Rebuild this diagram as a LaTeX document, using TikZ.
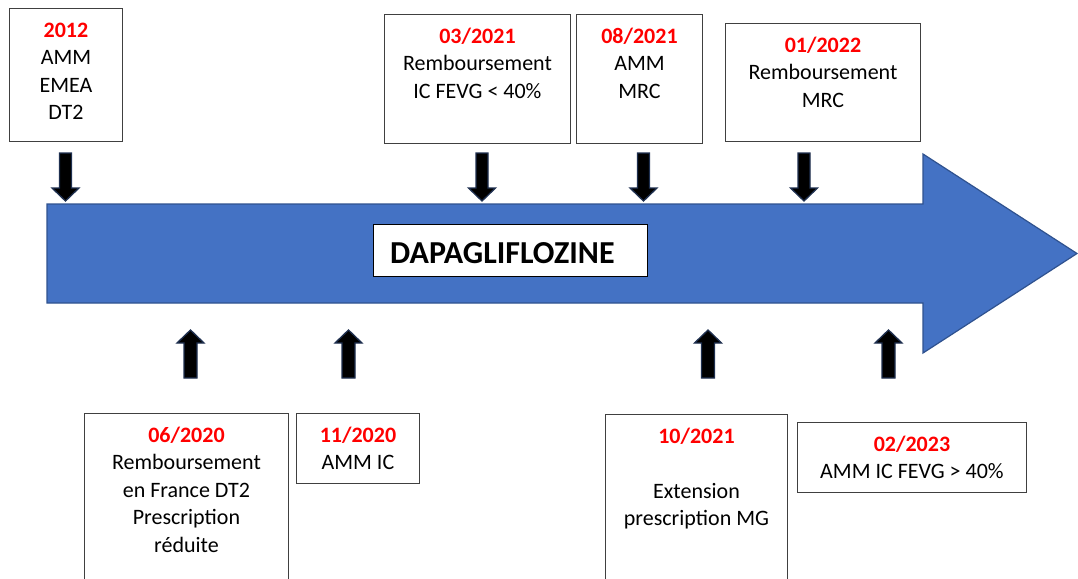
\documentclass[tikz,border=0pt]{standalone}
\usepackage{fontspec}
\setmainfont{Carlito}
\definecolor{bigblue}{HTML}{4472C4}
\definecolor{bigedge}{HTML}{2F528F}
\definecolor{arredge}{HTML}{1F3050}
\definecolor{datered}{HTML}{FF0000}
\definecolor{boxedge}{HTML}{404040}
\tikzset{
  evbox/.style={draw=boxedge, line width=0.9pt, fill=white, inner sep=0pt},
  evtext/.style={anchor=north, inner sep=0pt, align=center, text=black,
    font=\fontsize{22}{27.5}\selectfont},
  blockarr/.style={fill=black, draw=arredge, line width=1.3pt, line join=miter},
  bigarrow/.style={fill=bigblue, draw=bigedge, line width=1.2pt, line join=miter},
  titlebox/.style={draw=black, line width=0.9pt, fill=white},
}
\newcommand{\dte}[1]{\rule{0pt}{16pt}\textcolor{datered}{\textbf{#1}}}
\newcommand{\DownArr}[1]{\draw[blockarr] (#1-6,153) -- (#1+6,153) -- (#1+6,188) -- (#1+13.5,188) -- (#1,201) -- (#1-13.5,188) -- (#1-6,188) -- cycle;}
\newcommand{\UpArr}[1]{\draw[blockarr] (#1-6.5,378) -- (#1+6.5,378) -- (#1+6.5,343) -- (#1+13.5,343) -- (#1,330) -- (#1-13.5,343) -- (#1-6.5,343) -- cycle;}
\begin{document}
\begin{tikzpicture}[x=1pt,y=-1pt]
\useasboundingbox (0,0) rectangle (1078,578);
% main arrow
\draw[bigarrow] (47,204) -- (923,204) -- (923,154) -- (1077,253.5) -- (923,353) -- (923,303) -- (47,303) -- cycle;
\node[titlebox, minimum width=274pt, minimum height=52pt, anchor=north west] (title) at (373,224) {};
\node[anchor=base west, inner sep=0pt, font=\fontsize{32}{36}\selectfont\bfseries] (titletxt) at (390,263) {DAPAGLIFLOZINE};
% top boxes
\node[evbox, anchor=north west, minimum width=113pt, minimum height=133pt] (b2012) at (9,8) {};
\node[evtext] (t2012) at ([yshift=-13pt]b2012.north) {\dte{2012}\\AMM\\EMEA\\DT2};
\node[evbox, anchor=north west, minimum width=186pt, minimum height=129pt] (b0321) at (384,14) {};
\node[evtext] (t0321) at ([yshift=-13pt]b0321.north) {\dte{03/2021}\\Remboursement\\IC FEVG < 40\%};
\node[evbox, anchor=north west, minimum width=126pt, minimum height=129pt] (b0821) at (576,14) {};
\node[evtext] (t0821) at ([yshift=-13pt]b0821.north) {\dte{08/2021}\\AMM\\MRC};
\node[evbox, anchor=north west, minimum width=195pt, minimum height=118pt] (b0122) at (725,23) {};
\node[evtext] (t0122) at ([yshift=-13pt]b0122.north) {\dte{01/2022}\\Remboursement\\MRC};
% bottom boxes
\node[evbox, anchor=north west, minimum width=204pt, minimum height=170pt] (b0620) at (84,413) {};
\node[evtext] (t0620) at ([yshift=-13pt]b0620.north) {\dte{06/2020}\\Remboursement\\en France DT2\\Prescription\\réduite};
\node[evbox, anchor=north west, minimum width=123pt, minimum height=70pt] (b1120) at (296,413) {};
\node[evtext] (t1120) at ([yshift=-13pt]b1120.north) {\dte{11/2020}\\AMM IC};
\node[evbox, anchor=north west, minimum width=182pt, minimum height=170pt] (b1021) at (605,414) {};
\node[evtext] (t1021) at ([yshift=-13pt]b1021.north) {\dte{10/2021}\\\mbox{}\\Extension\\prescription MG};
\node[evbox, anchor=north west, minimum width=229pt, minimum height=70pt] (b0223) at (797,422) {};
\node[evtext] (t0223) at ([yshift=-13pt]b0223.north) {\dte{02/2023}\\AMM IC FEVG > 40\%};
% block arrows
\DownArr{65.5}
\DownArr{482}
\DownArr{643.5}
\DownArr{804}
\UpArr{190.5}
\UpArr{348.5}
\UpArr{708}
\UpArr{888.5}
\end{tikzpicture}
\end{document}
